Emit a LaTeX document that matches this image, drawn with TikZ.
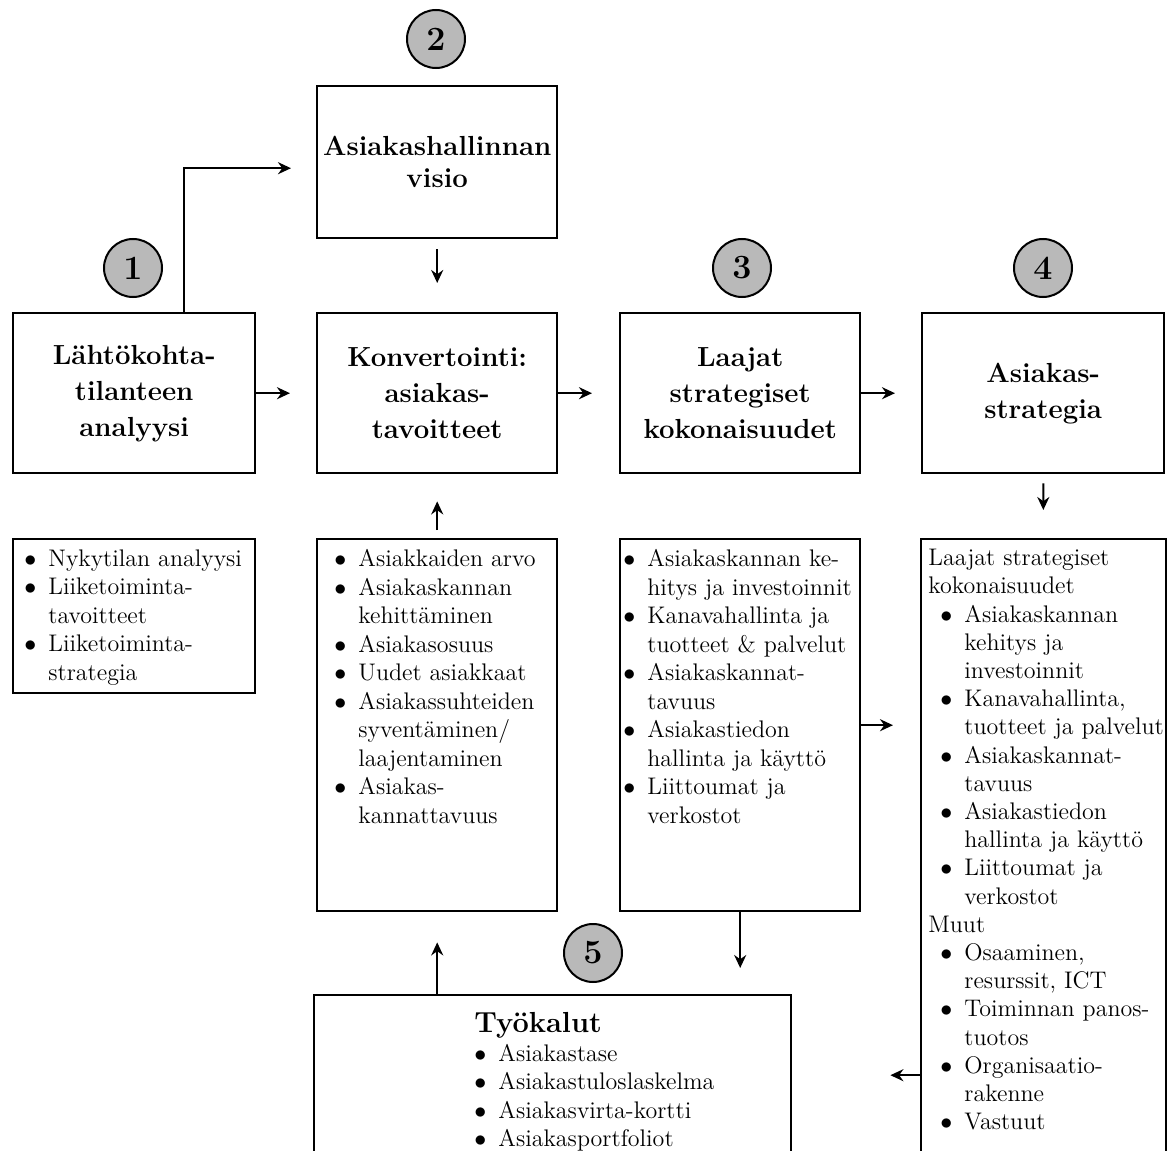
\documentclass[tikz,border=0pt]{standalone}
\usepackage{tikz}
\usetikzlibrary{arrows.meta}

\newcommand{\kohta}[2][0pt]{\noindent\hangindent=\dimexpr#1+12pt\relax\hangafter=1\hspace*{#1}\makebox[12pt][l]{$\bullet$}{\let\\\newline#2}\par}

\begin{document}
\begin{tikzpicture}[x=0.5pt, y=-0.5pt,
	laatikko/.style={draw, line width=1.2pt, anchor=north west, inner sep=0.5pt, align=center, font=\fontsize{13.8}{18}\selectfont\bfseries},
	lista/.style={anchor=north west, inner sep=0pt, text width=#1, font=\fontsize{12}{14.25}\selectfont},
	numero/.style={circle, draw, line width=1pt, fill=gray!55, minimum size=29pt, inner sep=0pt, font=\fontsize{17}{17}\selectfont\bfseries},
	nuoli/.style={line width=1pt, -{Stealth[length=6.5pt, width=6pt]}}]
	\useasboundingbox (0,0) rectangle (1175,1151);
	\clip (0,0) rectangle (1175,1151);
	% ylarivi
	\node[laatikko, minimum width=120pt, minimum height=76pt, font=\fontsize{13.8}{16}\selectfont\bfseries] (visio) at (316,85) {Asiakashallinnan\\visio};
	\node[laatikko, minimum width=121pt, minimum height=80pt] (lahto) at (12,312) {Lähtökohta-\\tilanteen\\analyysi};
	\node[laatikko, minimum width=120pt, minimum height=80pt] (konv) at (316,312) {Konvertointi:\\asiakas-\\tavoitteet};
	\node[laatikko, minimum width=120pt, minimum height=80pt] (laajat) at (619,312) {Laajat\\strategiset\\kokonaisuudet};
	\node[laatikko, minimum width=121pt, minimum height=80pt] (strat) at (921,312) {Asiakas-\\strategia};
	% alarivi
	\node[laatikko, minimum width=121pt, minimum height=77pt] (lahtoL) at (12,538) {};
	\node[laatikko, minimum width=120pt, minimum height=186pt] (konvL) at (316,538) {};
	\node[laatikko, minimum width=120pt, minimum height=186pt] (laajatL) at (619,538) {};
	\node[laatikko, minimum width=122.5pt, minimum height=310pt] (stratL) at (920,538) {};
	\node[laatikko, minimum width=238.5pt, minimum height=80pt] (tyokalut) at (313,994) {};
	% tekstit
	\node[lista=112pt, xshift=6pt, yshift=-5.5pt] (lahtoT) at (lahtoL.north west) {
		\kohta{Nykytilan analyysi}
		\kohta{Liiketoiminta-\\tavoitteet}
		\kohta{Liiketoiminta-\\strategia}
	};
	\node[lista=110pt, xshift=9pt, yshift=-5.5pt] (konvT) at (konvL.north west) {
		\kohta{Asiakkaiden arvo}
		\kohta{Asiakaskannan\\kehittäminen}
		\kohta{Asiakasosuus}
		\kohta{Uudet asiakkaat}
		\kohta{Asiakassuhteiden\\syventäminen/\\laajentaminen}
		\kohta{Asiakas-\\kannattavuus}
	};
	\node[lista=118pt, xshift=2pt, yshift=-5.5pt] (laajatT) at (laajatL.north west) {
		\kohta{Asiakaskannan ke-\\hitys ja investoinnit}
		\kohta{Kanavahallinta ja\\tuotteet \& palvelut}
		\kohta{Asiakaskannat-\\tavuus}
		\kohta{Asiakastiedon\\hallinta ja käyttö}
		\kohta{Liittoumat ja\\verkostot}
	};
	\node[lista=125pt, xshift=4pt, yshift=-5.5pt, font=\fontsize{12}{14.1}\selectfont] (stratT) at (stratL.north west) {
		\noindent Laajat strategiset\\kokonaisuudet\par
		\kohta[6pt]{Asiakaskannan\\kehitys ja\\investoinnit}
		\kohta[6pt]{Kanavahallinta,\\tuotteet ja palvelut}
		\kohta[6pt]{Asiakaskannat-\\tavuus}
		\kohta[6pt]{Asiakastiedon\\hallinta ja käyttö}
		\kohta[6pt]{Liittoumat ja\\verkostot}
		\noindent Muut\par
		\kohta[6pt]{Osaaminen,\\resurssit, ICT}
		\kohta[6pt]{Toiminnan panos-\\tuotos}
		\kohta[6pt]{Organisaatio-\\rakenne}
		\kohta[6pt]{Vastuut}
	};
	\node[lista=150pt, anchor=north west] (tyoT) at (474,1012) {
		\noindent{\fontsize{14.5}{15}\selectfont\bfseries Työkalut}\par
		\kohta{Asiakastase}
		\kohta{Asiakastuloslaskelma}
		\kohta{Asiakasvirta-kortti}
		\kohta{Asiakasportfoliot}
	};
	% numerot
	\node[numero] (n1) at (133,268) {1};
	\node[numero] (n2) at (436,39) {2};
	\node[numero] (n3) at (742,268) {3};
	\node[numero] (n4) at (1043,268) {4};
	\node[numero] (n5) at (593,953) {5};
	% nuolet
	\draw[nuoli, shorten >=12.5pt] ([xshift=25pt]lahto.north) |- ([yshift=-3pt]visio.west);
	\draw[nuoli, shorten <=5pt, shorten >=14.5pt] (visio) -- (konv);
	\draw[nuoli, shorten >=13pt] (lahto) -- (konv);
	\draw[nuoli, shorten >=13.5pt] (konv) -- (laajat);
	\draw[nuoli, shorten >=13pt] (laajat) -- (strat);
	\draw[nuoli, shorten <=4.5pt, shorten >=14pt] (strat) -- (stratL);
	\draw[nuoli, shorten <=4pt, shorten >=13.5pt] (konvL) -- (konv);
	\draw[nuoli, shorten >=13.5pt] (laajatL.east) -- (laajatL.east -| stratL.west);
	\draw[nuoli, shorten >=13pt] (laajatL.south) -- (laajatL.south |- tyokalut.north);
	\draw[nuoli, shorten >=15pt] (tyokalut.north -| konvL.south) -- (konvL.south);
	\draw[nuoli, shorten >=49pt] (tyokalut.east -| stratL.west) -- (tyokalut.east);
\end{tikzpicture}
\end{document}
